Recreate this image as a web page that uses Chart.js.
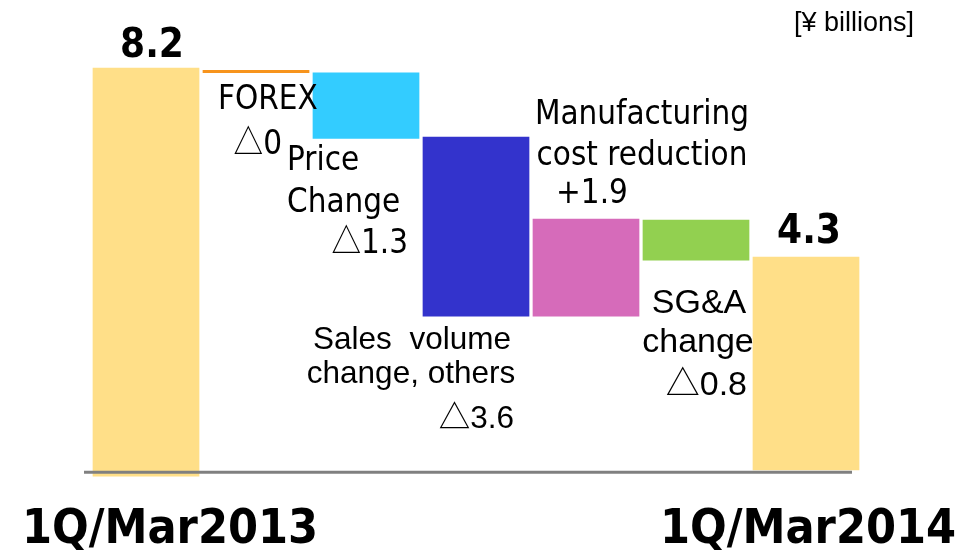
<!DOCTYPE html>
<html>
<head>
<meta charset="utf-8">
<script src="https://cdn.jsdelivr.net/npm/chart.js@4.4.0/dist/chart.umd.min.js"></script>
<style>
  html, body { margin: 0; padding: 0; background: #fff; }
  #wrap { width: 975px; height: 550px; }
</style>
</head>
<body>
<div id="wrap"><canvas id="myChart" width="975" height="550"></canvas></div>
<script>
// waterfall steps, values in ¥ billions
var categories = ['1Q/Mar2013', 'FOREX', 'Price Change', 'Sales volume change, others',
  'Manufacturing cost reduction', 'SG&A change', '1Q/Mar2014'];
var barLow  = [-0.13, 8.09, 6.75, 3.13, 3.13, 4.27, 0];
var barHigh = [8.2, 8.15, 8.10, 6.79, 5.12, 5.10, 4.35];
var valueLabels = ['8.2', '△0', '△1.3', '△3.6', '+1.9', '△0.8', '4.3'];
var unitLabel = '[¥ billions]';

var barColors = ['#FFDF88', '#F7941D', '#33CCFF', '#3333CC', '#D66BBA', '#92D050', '#FFDF88'];

var ctx = document.getElementById('myChart').getContext('2d');

var DEJAVU = '"DejaVu Sans"';
var ARIAL = '"Liberation Sans", "DejaVu Sans"';
var CJK = '"Noto Sans CJK JP"';

var bold = { w: 'bold', px: 41, fam: DEJAVU, sx: 0.88 };
var tahoma = { w: 'normal', px: 34, fam: DEJAVU, sx: 0.87 };
var arial = { w: 'normal', px: 31.5, fam: ARIAL, sx: 1 };
var arial2 = { w: 'normal', px: 34, fam: ARIAL, sx: 1 };

// text around the bars, anchored to a bar edge
var notes = [
  { bar: 0, text: valueLabels[0], font: bold, align: 'center', dx: 6, edge: 'top', dy: -11 },
  { bar: 1, text: 'FOREX', font: tahoma, align: 'left', dx: -38, edge: 'top', dy: 39 },
  { bar: 1, text: valueLabels[1], font: tahoma, align: 'right', dx: 26, edge: 'top', dy: 84 },
  { bar: 2, text: 'Price', font: tahoma, align: 'left', dx: -79, edge: 'bottom', dy: 31 },
  { bar: 2, text: 'Change', font: tahoma, align: 'left', dx: -79, edge: 'bottom', dy: 73 },
  { bar: 2, text: valueLabels[2], font: tahoma, align: 'right', dx: 42, edge: 'bottom', dy: 114 },
  { bar: 3, text: 'Sales  volume', font: arial, align: 'center', dx: -64, edge: 'bottom', dy: 32 },
  { bar: 3, text: 'change, others', font: arial, align: 'center', dx: -65, edge: 'bottom', dy: 66 },
  { bar: 3, text: valueLabels[3], font: arial, align: 'right', dx: 38, edge: 'bottom', dy: 111 },
  { bar: 4, text: 'Manufacturing', font: tahoma, align: 'center', dx: 56, edge: 'top', dy: -95 },
  { bar: 4, text: 'cost reduction', font: tahoma, align: 'center', dx: 56, edge: 'top', dy: -54 },
  { bar: 4, text: valueLabels[4], font: tahoma, align: 'center', dx: 6, edge: 'top', dy: -16 },
  { bar: 5, text: 'SG&A', font: arial2, align: 'center', dx: 3, edge: 'bottom', dy: 52 },
  { bar: 5, text: 'change', font: arial2, align: 'center', dx: 2, edge: 'bottom', dy: 91 },
  { bar: 5, text: valueLabels[5], font: arial2, align: 'right', dx: 51, edge: 'bottom', dy: 134 },
  { bar: 6, text: valueLabels[6], font: bold, align: 'center', dx: 3, edge: 'top', dy: -14 }
];

function fontStr(f, fam) {
  return f.w + ' ' + f.px + 'px ' + (fam || f.fam);
}

// draws text; a leading △ is set in the CJK face like the original slide
function drawText(c, text, f, align, x, y) {
  var head = '', rest = text;
  if (text.charAt(0) === '△') { head = '△'; rest = text.slice(1); }
  c.font = fontStr(f, CJK);
  var hw = head ? c.measureText(head).width : 0;
  c.font = fontStr(f);
  var rw = c.measureText(rest).width;
  var total = (hw + rw) * f.sx;
  var left = align === 'left' ? x : align === 'right' ? x - total : x - total / 2;
  c.save();
  c.translate(left, y);
  c.scale(f.sx, 1);
  c.textAlign = 'left';
  if (head) {
    c.font = fontStr(f, CJK);
    c.fillText(head, 0, 0);
  }
  c.font = fontStr(f);
  c.fillText(rest, hw, 0);
  c.restore();
}

var waterfallText = {
  id: 'waterfallText',
  afterDatasetsDraw: function(chart) {
    var c = chart.ctx;
    var area = chart.chartArea;
    var bars = chart.getDatasetMeta(0).data;
    var yScale = chart.scales.y;
    c.save();
    // base line, drawn over the first bar
    c.strokeStyle = '#808080';
    c.lineWidth = 3;
    c.beginPath();
    c.moveTo(area.left - 7, yScale.getPixelForValue(0) + 2);
    c.lineTo(area.right - 9, yScale.getPixelForValue(0) + 2);
    c.stroke();

    c.fillStyle = '#000';
    c.textBaseline = 'alphabetic';
    notes.forEach(function(n) {
      var b = bars[n.bar];
      var top = Math.min(b.y, b.base);
      var bottom = Math.max(b.y, b.base);
      drawText(c, n.text, n.font, n.align, b.x + n.dx, (n.edge === 'top' ? top : bottom) + n.dy);
    });

    // category names under the first and last bar only
    var big = { w: 'bold', px: 48, fam: DEJAVU, sx: 0.9 };
    drawText(c, categories[0], big, 'center', bars[0].x + 24, 543);
    drawText(c, categories[6], big, 'center', bars[6].x + 2, 543);

    drawText(c, unitLabel, { w: 'normal', px: 27, fam: ARIAL, sx: 1 }, 'right', 914, 31);
    c.restore();
  }
};

var chart = new Chart(ctx, {
  type: 'bar',
  data: {
    labels: categories,
    datasets: [{
      data: barLow.map(function(lo, i) { return [lo, barHigh[i]]; }),
      backgroundColor: barColors,
      borderWidth: 0,
      barPercentage: 0.97,
      categoryPercentage: 1
    }]
  },
  options: {
    responsive: false,
    animation: false,
    devicePixelRatio: 1,
    layout: { padding: { left: 91, right: 114, top: 48, bottom: 70 } },
    plugins: { legend: { display: false }, tooltip: { enabled: false } },
    scales: {
      x: { display: false },
      y: { display: false, min: -0.2, max: 8.6 }
    }
  },
  plugins: [waterfallText]
});
</script>
</body>
</html>
